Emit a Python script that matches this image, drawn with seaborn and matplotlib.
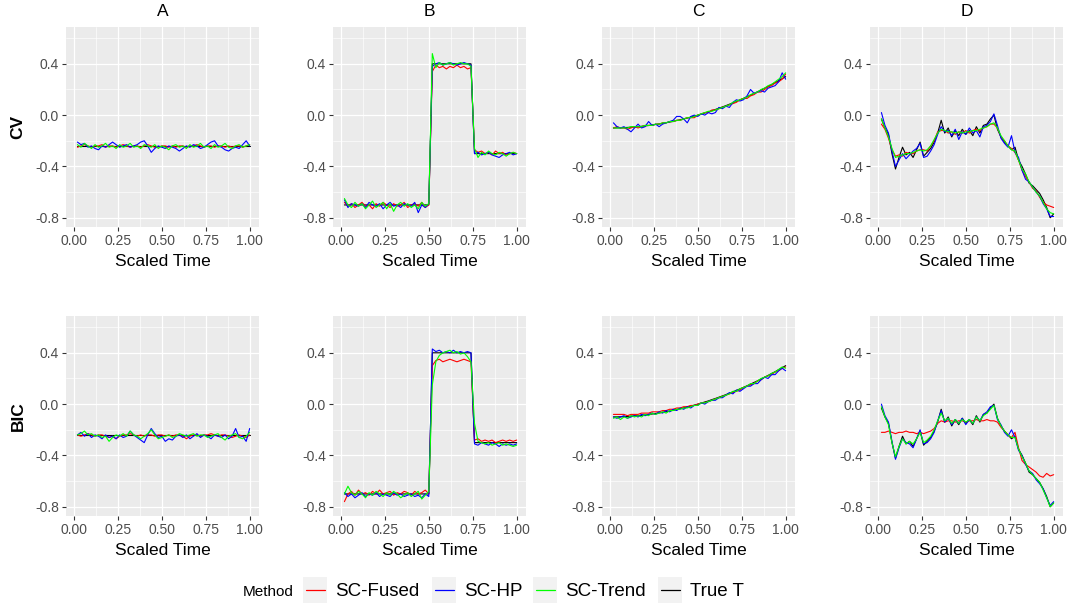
import numpy as np
import pandas as pd
import matplotlib
matplotlib.use("Agg")
import matplotlib.pyplot as plt
import seaborn as sns
from matplotlib.patches import Rectangle
from matplotlib.lines import Line2D

# ---------------------------------------------------------------- data
TIME = np.round(np.linspace(0.02, 1.00, 50), 2)

COLUMNS = ["A", "B", "C", "D"]
ROWS = ["CV", "BIC"]
METHODS = ["SC-Fused", "SC-HP", "SC-Trend", "True T"]
COLORS = ["#FF0000", "#0000FF", "#00FF00", "#000000"]
X_TICKS = [0.00, 0.25, 0.50, 0.75, 1.00]
X_TICK_LABELS = ["0.00", "0.25", "0.50", "0.75", "1.00"]
Y_TICKS = [0.4, 0.0, -0.4, -0.8]
Y_TICK_LABELS = ["0.4", "0.0", "-0.4", "-0.8"]

# true trends
A_TRUE = [-0.24] * 50
B_TRUE = [-0.70] * 25 + [0.40] * 12 + [-0.30] * 13
C_TRUE = [-0.100, -0.099, -0.099, -0.097, -0.096, -0.094, -0.092, -0.090, -0.087, -0.084,
          -0.081, -0.077, -0.073, -0.069, -0.064, -0.059, -0.054, -0.048, -0.042, -0.036,
          -0.029, -0.023, -0.015, -0.008, 0.000, 0.008, 0.017, 0.025, 0.035, 0.044,
          0.054, 0.064, 0.074, 0.085, 0.096, 0.107, 0.119, 0.131, 0.143, 0.156,
          0.169, 0.182, 0.196, 0.210, 0.224, 0.239, 0.253, 0.269, 0.284, 0.300]
D_TRUE = [-0.03, -0.10, -0.15, -0.30, -0.42, -0.33, -0.25, -0.31, -0.29, -0.33,
          -0.27, -0.21, -0.32, -0.29, -0.26, -0.21, -0.14, -0.04, -0.14, -0.10,
          -0.17, -0.12, -0.16, -0.11, -0.15, -0.12, -0.16, -0.09, -0.14, -0.08,
          -0.07, -0.03, 0.00, -0.11, -0.17, -0.21, -0.24, -0.27, -0.25, -0.35,
          -0.40, -0.46, -0.53, -0.55, -0.58, -0.61, -0.66, -0.72, -0.80, -0.77]

# A: constant trend
A_CV_FUSED = [-0.25, -0.24, -0.23, -0.24, -0.25, -0.24, -0.24, -0.23, -0.25, -0.24,
              -0.24, -0.25, -0.24, -0.23, -0.24, -0.25, -0.24, -0.24, -0.25, -0.24,
              -0.23, -0.24, -0.25, -0.25, -0.24, -0.24, -0.25, -0.24, -0.25, -0.24,
              -0.24, -0.25, -0.24, -0.24, -0.23, -0.24, -0.25, -0.24, -0.24, -0.25,
              -0.24, -0.24, -0.25, -0.24, -0.25, -0.24, -0.24, -0.25, -0.24, -0.23]
A_CV_HP = [-0.21, -0.23, -0.22, -0.25, -0.24, -0.26, -0.27, -0.24, -0.25, -0.23,
           -0.21, -0.23, -0.25, -0.24, -0.23, -0.25, -0.24, -0.23, -0.21, -0.20,
           -0.24, -0.29, -0.26, -0.24, -0.25, -0.26, -0.24, -0.25, -0.26, -0.28,
           -0.26, -0.24, -0.25, -0.23, -0.24, -0.26, -0.25, -0.23, -0.21, -0.20,
           -0.24, -0.25, -0.27, -0.28, -0.26, -0.25, -0.26, -0.23, -0.20, -0.24]
A_CV_TREND = [-0.23, -0.25, -0.22, -0.24, -0.26, -0.23, -0.25, -0.24, -0.22, -0.25,
              -0.24, -0.26, -0.23, -0.25, -0.24, -0.22, -0.25, -0.24, -0.26, -0.23,
              -0.24, -0.25, -0.23, -0.26, -0.24, -0.25, -0.27, -0.24, -0.23, -0.25,
              -0.24, -0.26, -0.23, -0.25, -0.24, -0.22, -0.25, -0.24, -0.26, -0.23,
              -0.25, -0.24, -0.22, -0.25, -0.26, -0.24, -0.23, -0.25, -0.24, -0.23]
A_BIC_FUSED = [-0.24, -0.25, -0.24, -0.23, -0.24, -0.25, -0.24, -0.24, -0.25, -0.26,
               -0.25, -0.27, -0.25, -0.24, -0.24, -0.23, -0.24, -0.25, -0.24, -0.25,
               -0.24, -0.24, -0.25, -0.24, -0.24, -0.25, -0.24, -0.25, -0.24, -0.24,
               -0.25, -0.27, -0.25, -0.24, -0.24, -0.25, -0.24, -0.24, -0.23, -0.24,
               -0.25, -0.24, -0.24, -0.25, -0.26, -0.25, -0.24, -0.25, -0.26, -0.24]
A_BIC_HP = [-0.24, -0.22, -0.25, -0.23, -0.26, -0.24, -0.25, -0.27, -0.24, -0.26,
            -0.25, -0.27, -0.24, -0.26, -0.25, -0.21, -0.24, -0.26, -0.28, -0.30,
            -0.24, -0.19, -0.23, -0.26, -0.25, -0.29, -0.27, -0.28, -0.25, -0.24,
            -0.26, -0.24, -0.27, -0.25, -0.23, -0.26, -0.24, -0.25, -0.27, -0.24,
            -0.25, -0.26, -0.24, -0.27, -0.25, -0.19, -0.26, -0.25, -0.29, -0.19]
A_BIC_TREND = [-0.24, -0.23, -0.21, -0.24, -0.23, -0.25, -0.24, -0.26, -0.25, -0.29,
               -0.26, -0.24, -0.25, -0.23, -0.25, -0.21, -0.24, -0.25, -0.27, -0.25,
               -0.23, -0.20, -0.24, -0.27, -0.26, -0.25, -0.24, -0.26, -0.25, -0.23,
               -0.24, -0.25, -0.24, -0.23, -0.25, -0.24, -0.24, -0.26, -0.25, -0.24,
               -0.23, -0.26, -0.28, -0.25, -0.24, -0.23, -0.26, -0.27, -0.25, -0.22]

# B: step trend
B_CV_FUSED = [-0.68, -0.71, -0.69, -0.72, -0.70, -0.68, -0.71, -0.70, -0.73, -0.69,
              -0.71, -0.68, -0.70, -0.72, -0.69, -0.71, -0.70, -0.68, -0.72, -0.70,
              -0.69, -0.71, -0.68, -0.72, -0.70,
              0.34, 0.39, 0.37, 0.38, 0.36, 0.38, 0.37, 0.39, 0.37, 0.38, 0.36, 0.37,
              -0.27, -0.29, -0.28, -0.30, -0.29, -0.31, -0.28, -0.30, -0.29, -0.31, -0.30, -0.29, -0.30]
B_CV_HP = [-0.66, -0.72, -0.69, -0.70, -0.71, -0.69, -0.72, -0.68, -0.70, -0.71,
           -0.69, -0.73, -0.70, -0.68, -0.71, -0.70, -0.72, -0.69, -0.70, -0.71,
           -0.68, -0.76, -0.70, -0.72, -0.69,
           0.38, 0.40, 0.41, 0.39, 0.40, 0.41, 0.40, 0.39, 0.40, 0.41, 0.40, 0.39,
           -0.30, -0.29, -0.31, -0.30, -0.29, -0.31, -0.32, -0.33, -0.31, -0.30, -0.29, -0.31, -0.30]
B_CV_TREND = [-0.65, -0.70, -0.72, -0.68, -0.71, -0.69, -0.73, -0.70, -0.67, -0.72,
              -0.70, -0.68, -0.73, -0.69, -0.75, -0.70, -0.68, -0.71, -0.69, -0.72,
              -0.70, -0.73, -0.68, -0.71, -0.69,
              0.48, 0.37, 0.41, 0.39, 0.40, 0.41, 0.39, 0.40, 0.41, 0.40, 0.40, 0.38,
              -0.26, -0.33, -0.29, -0.31, -0.28, -0.30, -0.31, -0.29, -0.30, -0.32, -0.30, -0.29, -0.30]
B_BIC_FUSED = [-0.76, -0.70, -0.68, -0.71, -0.67, -0.70, -0.69, -0.71, -0.68, -0.70,
               -0.67, -0.70, -0.69, -0.68, -0.71, -0.69, -0.70, -0.68, -0.69, -0.71,
               -0.68, -0.70, -0.69, -0.67, -0.70,
               0.30, 0.34, 0.35, 0.33, 0.34, 0.35, 0.34, 0.33, 0.34, 0.35, 0.34, 0.33,
               -0.28, -0.27, -0.29, -0.28, -0.29, -0.28, -0.30, -0.29, -0.28, -0.29, -0.28, -0.29, -0.28]
B_BIC_HP = [-0.69, -0.72, -0.70, -0.73, -0.71, -0.69, -0.72, -0.70, -0.71, -0.69,
            -0.72, -0.70, -0.71, -0.72, -0.69, -0.71, -0.70, -0.72, -0.71, -0.70,
            -0.72, -0.71, -0.73, -0.70, -0.72,
            0.43, 0.41, 0.42, 0.40, 0.41, 0.40, 0.42, 0.40, 0.41, 0.40, 0.41, 0.40,
            -0.31, -0.32, -0.30, -0.31, -0.32, -0.30, -0.31, -0.33, -0.31, -0.32, -0.31, -0.32, -0.31]
B_BIC_TREND = [-0.70, -0.64, -0.69, -0.71, -0.68, -0.70, -0.73, -0.69, -0.71, -0.68,
               -0.70, -0.72, -0.69, -0.71, -0.68, -0.70, -0.73, -0.71, -0.69, -0.72,
               -0.70, -0.68, -0.74, -0.71, -0.68,
               0.15, 0.33, 0.38, 0.40, 0.41, 0.42, 0.40, 0.41, 0.39, 0.40, 0.37, 0.33,
               -0.15, -0.29, -0.30, -0.31, -0.30, -0.32, -0.31, -0.30, -0.32, -0.31, -0.32, -0.33, -0.32]

# C: smooth convex trend
C_CV_FUSED = [-0.10, -0.09, -0.10, -0.10, -0.11, -0.10, -0.09, -0.10, -0.09, -0.08,
              -0.08, -0.08, -0.07, -0.07, -0.06, -0.06, -0.05, -0.05, -0.04, -0.04,
              -0.03, -0.02, -0.02, -0.02, 0.00, 0.01, 0.02, 0.02, 0.04, 0.04,
              0.05, 0.06, 0.07, 0.08, 0.09, 0.10, 0.12, 0.13, 0.13, 0.15,
              0.16, 0.18, 0.18, 0.20, 0.22, 0.23, 0.25, 0.26, 0.28, 0.32]
C_CV_HP = [-0.06, -0.09, -0.10, -0.09, -0.11, -0.13, -0.10, -0.07, -0.10, -0.09,
           -0.05, -0.08, -0.07, -0.09, -0.07, -0.06, -0.05, -0.04, -0.01, -0.01,
           -0.03, -0.06, -0.01, 0.00, -0.01, 0.01, 0.00, 0.02, 0.01, 0.02,
           0.06, 0.05, 0.07, 0.06, 0.10, 0.12, 0.11, 0.12, 0.15, 0.20,
           0.17, 0.18, 0.19, 0.18, 0.21, 0.22, 0.23, 0.26, 0.33, 0.28]
C_CV_TREND = [-0.10, -0.10, -0.10, -0.10, -0.10, -0.09, -0.09, -0.09, -0.09, -0.08,
              -0.08, -0.08, -0.07, -0.07, -0.06, -0.06, -0.05, -0.05, -0.04, -0.04,
              -0.03, -0.02, -0.02, -0.01, 0.00, 0.01, 0.02, 0.03, 0.03, 0.04,
              0.05, 0.06, 0.07, 0.08, 0.10, 0.11, 0.12, 0.13, 0.14, 0.16,
              0.17, 0.18, 0.20, 0.21, 0.23, 0.24, 0.26, 0.28, 0.30, 0.33]
C_BIC_FUSED = [-0.08, -0.08, -0.08, -0.08, -0.09, -0.08, -0.08, -0.08, -0.07, -0.07,
               -0.07, -0.06, -0.06, -0.06, -0.05, -0.05, -0.04, -0.04, -0.03, -0.03,
               -0.02, -0.02, -0.01, -0.01, 0.00, 0.01, 0.01, 0.02, 0.03, 0.04,
               0.05, 0.06, 0.07, 0.08, 0.09, 0.10, 0.11, 0.13, 0.14, 0.15,
               0.16, 0.18, 0.19, 0.21, 0.22, 0.23, 0.25, 0.26, 0.28, 0.29]
C_BIC_HP = [-0.10, -0.11, -0.10, -0.09, -0.11, -0.10, -0.09, -0.10, -0.08, -0.09,
            -0.08, -0.07, -0.08, -0.06, -0.07, -0.05, -0.06, -0.04, -0.05, -0.03,
            -0.04, -0.02, -0.03, -0.01, -0.01, 0.01, 0.00, 0.02, 0.03, 0.03,
            0.05, 0.05, 0.07, 0.09, 0.08, 0.11, 0.10, 0.12, 0.14, 0.14,
            0.16, 0.16, 0.19, 0.21, 0.20, 0.23, 0.23, 0.26, 0.28, 0.26]
C_BIC_TREND = [-0.11, -0.10, -0.12, -0.10, -0.11, -0.09, -0.10, -0.09, -0.10, -0.08,
               -0.09, -0.07, -0.08, -0.07, -0.06, -0.07, -0.05, -0.05, -0.04, -0.04,
               -0.03, -0.03, -0.02, -0.01, -0.01, 0.01, 0.01, 0.02, 0.03, 0.04,
               0.05, 0.06, 0.07, 0.08, 0.10, 0.10, 0.12, 0.13, 0.14, 0.16,
               0.16, 0.18, 0.20, 0.21, 0.22, 0.24, 0.25, 0.27, 0.29, 0.28]

# D: irregular trend
D_CV_FUSED = [-0.07, -0.11, -0.18, -0.27, -0.32, -0.31, -0.32, -0.29, -0.30, -0.30,
              -0.28, -0.27, -0.27, -0.28, -0.24, -0.20, -0.13, -0.12, -0.12, -0.14,
              -0.13, -0.15, -0.13, -0.14, -0.12, -0.14, -0.12, -0.11, -0.12, -0.10,
              -0.09, -0.07, -0.07, -0.10, -0.17, -0.20, -0.24, -0.26, -0.29, -0.35,
              -0.43, -0.48, -0.52, -0.57, -0.59, -0.64, -0.68, -0.70, -0.71, -0.72]
D_CV_HP = [0.02, -0.08, -0.14, -0.28, -0.40, -0.35, -0.30, -0.34, -0.31, -0.28,
           -0.26, -0.22, -0.33, -0.32, -0.28, -0.23, -0.15, -0.09, -0.13, -0.12,
           -0.16, -0.11, -0.19, -0.13, -0.15, -0.10, -0.14, -0.12, -0.17, -0.09,
           -0.08, -0.05, 0.01, -0.08, -0.18, -0.22, -0.25, -0.16, -0.29, -0.33,
           -0.43, -0.50, -0.52, -0.56, -0.60, -0.63, -0.69, -0.73, -0.79, -0.79]
D_CV_TREND = [-0.03, -0.10, -0.17, -0.26, -0.33, -0.32, -0.31, -0.30, -0.30, -0.29,
              -0.28, -0.27, -0.28, -0.27, -0.24, -0.19, -0.14, -0.11, -0.12, -0.13,
              -0.13, -0.14, -0.13, -0.14, -0.13, -0.13, -0.12, -0.12, -0.11, -0.10,
              -0.09, -0.07, -0.06, -0.10, -0.16, -0.20, -0.24, -0.27, -0.28, -0.35,
              -0.42, -0.46, -0.52, -0.56, -0.60, -0.63, -0.68, -0.73, -0.76, -0.77]
D_BIC_FUSED = [-0.22, -0.22, -0.21, -0.22, -0.23, -0.22, -0.22, -0.21, -0.22, -0.22,
               -0.23, -0.22, -0.23, -0.22, -0.21, -0.19, -0.15, -0.13, -0.14, -0.13,
               -0.13, -0.14, -0.13, -0.13, -0.14, -0.13, -0.13, -0.12, -0.13, -0.13,
               -0.12, -0.13, -0.13, -0.14, -0.18, -0.21, -0.24, -0.26, -0.22, -0.34,
               -0.44, -0.47, -0.49, -0.51, -0.53, -0.56, -0.57, -0.54, -0.56, -0.55]
D_BIC_HP = [0.00, -0.09, -0.14, -0.29, -0.43, -0.34, -0.27, -0.30, -0.31, -0.34,
            -0.27, -0.20, -0.31, -0.30, -0.27, -0.22, -0.13, -0.05, -0.14, -0.11,
            -0.16, -0.12, -0.15, -0.11, -0.16, -0.12, -0.15, -0.10, -0.13, -0.08,
            -0.06, -0.02, -0.01, -0.12, -0.16, -0.22, -0.25, -0.20, -0.26, -0.36,
            -0.40, -0.47, -0.52, -0.54, -0.59, -0.62, -0.66, -0.73, -0.79, -0.76]
D_BIC_TREND = [-0.02, -0.10, -0.16, -0.30, -0.41, -0.33, -0.27, -0.31, -0.29, -0.31,
               -0.27, -0.22, -0.30, -0.28, -0.25, -0.20, -0.13, -0.07, -0.13, -0.11,
               -0.15, -0.12, -0.15, -0.12, -0.14, -0.12, -0.15, -0.10, -0.13, -0.09,
               -0.07, -0.04, -0.01, -0.11, -0.17, -0.21, -0.24, -0.26, -0.26, -0.35,
               -0.41, -0.46, -0.52, -0.55, -0.58, -0.61, -0.67, -0.73, -0.80, -0.77]

PANELS = {
    ("CV", "A"): (A_CV_FUSED, A_CV_HP, A_CV_TREND, A_TRUE),
    ("CV", "B"): (B_CV_FUSED, B_CV_HP, B_CV_TREND, B_TRUE),
    ("CV", "C"): (C_CV_FUSED, C_CV_HP, C_CV_TREND, C_TRUE),
    ("CV", "D"): (D_CV_FUSED, D_CV_HP, D_CV_TREND, D_TRUE),
    ("BIC", "A"): (A_BIC_FUSED, A_BIC_HP, A_BIC_TREND, A_TRUE),
    ("BIC", "B"): (B_BIC_FUSED, B_BIC_HP, B_BIC_TREND, B_TRUE),
    ("BIC", "C"): (C_BIC_FUSED, C_BIC_HP, C_BIC_TREND, C_TRUE),
    ("BIC", "D"): (D_BIC_FUSED, D_BIC_HP, D_BIC_TREND, D_TRUE),
}

# ---------------------------------------------------------------- style
sns.set_theme(style="darkgrid")
plt.rcParams["font.family"] = ["Liberation Sans", "DejaVu Sans"]

W, H = 1073, 609
fig = plt.figure(figsize=(W / 100, H / 100), dpi=100)
fig.patch.set_facecolor("white")

PANEL_LEFT = [66, 333, 602, 870]
PANEL_TOP = [27, 316]
PANEL_W, PANEL_H = 193, 200
PALETTE = dict(zip(METHODS, COLORS))
DRAW_ORDER = ["True T", "SC-Fused", "SC-HP", "SC-Trend"]


def fx(px):
    return px / W


def fy(py):
    return 1 - py / H


for r, row in enumerate(ROWS):
    for c, col in enumerate(COLUMNS):
        ax = fig.add_axes([fx(PANEL_LEFT[c]), fy(PANEL_TOP[r] + PANEL_H),
                           PANEL_W / W, PANEL_H / H])
        series = PANELS[(row, col)]
        df = pd.concat([pd.DataFrame({"Scaled Time": TIME, "value": vals, "Method": m})
                        for m, vals in zip(METHODS, series)], ignore_index=True)
        sns.lineplot(data=df, x="Scaled Time", y="value", hue="Method",
                     hue_order=DRAW_ORDER, palette=PALETTE, estimator=None,
                     sort=False, linewidth=0.8, legend=False, ax=ax)
        ax.set_facecolor("#EBEBEB")
        for s in ax.spines.values():
            s.set_visible(False)
        ax.set_xlim(-0.045, 1.053)
        ax.set_ylim(-0.872, 0.687)
        ax.set_xticks(X_TICKS)
        ax.set_xticklabels(X_TICK_LABELS)
        ax.set_xticks([0.125, 0.375, 0.625, 0.875], minor=True)
        ax.set_yticks(Y_TICKS)
        ax.set_yticklabels(Y_TICK_LABELS)
        ax.set_yticks([0.6, 0.2, -0.2, -0.6], minor=True)
        ax.grid(which="major", color="white", linewidth=0.9)
        ax.grid(which="minor", color="white", linewidth=0.45)
        ax.set_axisbelow(True)
        ax.tick_params(which="major", length=3.2, width=0.8, color="#333333",
                       labelcolor="#4D4D4D", labelsize=10, pad=2,
                       bottom=True, left=True)
        ax.tick_params(which="minor", length=0)
        ax.set_xlabel("Scaled Time", fontsize=12.5, color="black", labelpad=4.5)
        ax.set_ylabel("")
        if r == 0:
            fig.text(fx(PANEL_LEFT[c] + PANEL_W / 2), fy(12), col,
                     ha="center", va="center", fontsize=12.5, color="black")
    fig.text(fx(18), fy(PANEL_TOP[r] + PANEL_H / 2), row, rotation=90,
             ha="center", va="center", fontsize=12.5, fontweight="bold", color="black")

# ---------------------------------------------------------------- legend
fig.text(fx(243), fy(592), "Method", ha="left", va="center", fontsize=11, color="black")
KEY_LEFT = [303, 432, 533, 658]
for m, col, kx in zip(METHODS, COLORS, KEY_LEFT):
    fig.patches.append(Rectangle((fx(kx), fy(603)), 24 / W, 26 / H,
                                 transform=fig.transFigure, facecolor="#F2F2F2",
                                 edgecolor="none"))
    fig.lines.append(Line2D([fx(kx + 2.5), fx(kx + 21.5)], [fy(590), fy(590)],
                            transform=fig.transFigure, color=col, linewidth=0.9))
    fig.text(fx(kx + 32), fy(591), m, ha="left", va="center", fontsize=13.5,
             color="black")

fig.savefig("out.png", dpi=100, facecolor="white")
